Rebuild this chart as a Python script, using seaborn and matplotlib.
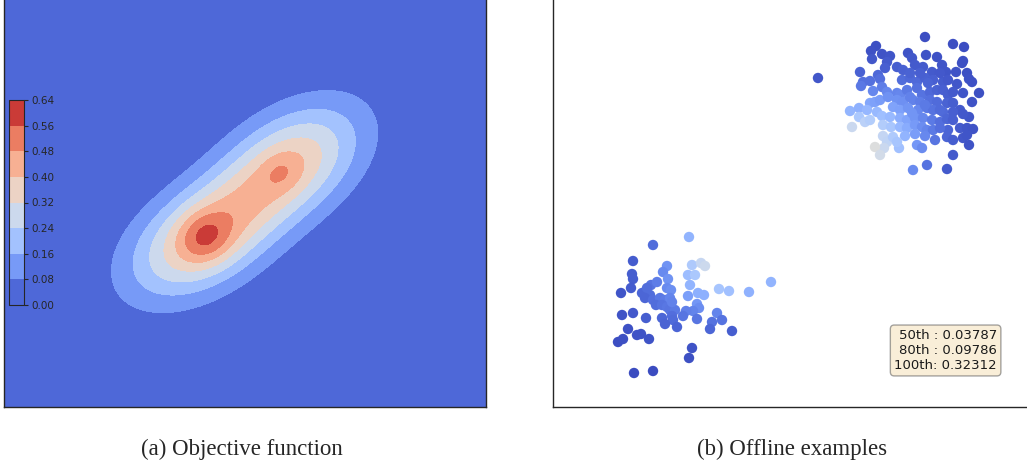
import numpy as np
import pandas as pd
import matplotlib
matplotlib.use("Agg")
import matplotlib.pyplot as plt
import seaborn as sns

# ---------------- data ----------------
# Objective function: sum of anisotropic Gaussian components
comp_x = [1.97, 2.85, 2.01, 2.77]
comp_y = [1.67, 2.42, 1.70, 2.35]
comp_amp = [0.40, 0.38, 0.14, 0.06]
comp_sig_major = [0.55, 0.56, 0.18, 0.14]
comp_sig_minor = [0.33, 0.34, 0.17, 0.13]
comp_angle = [32, 34, 40, 40]

levels = [0.00, 0.08, 0.16, 0.24, 0.32, 0.40, 0.48, 0.56, 0.64]
x_range = [0.0, 4.82]
y_range = [0.0, 4.12]

# Offline examples: lower-left cluster
cluster_a_x = [1.36, 1.00, 0.80, 1.14, 1.39, 1.48, 1.52, 0.79, 0.80, 1.10, 1.15, 1.35, 1.42, 0.98,
               1.04, 1.37, 0.78, 0.68, 0.89, 0.94, 1.14, 1.18, 0.97, 0.92, 1.00, 1.07, 1.12, 1.17,
               1.03, 1.09, 1.14, 1.17, 1.22, 1.35, 1.45, 1.51, 1.66, 1.76, 1.96, 2.18, 1.44, 1.46,
               1.40, 1.33, 1.30, 1.19, 1.20, 1.24, 1.44, 1.64, 1.59, 1.69, 1.57, 1.79, 1.09, 1.12,
               0.69, 0.80, 0.93, 0.75, 0.84, 0.88, 0.96, 0.65, 0.70, 1.39, 1.36, 0.81, 1.00, 1.19]
cluster_a_y = [1.70, 1.62, 1.46, 1.41, 1.42, 1.44, 1.41, 1.33, 1.28, 1.35, 1.28, 1.32, 1.32, 1.22,
               1.25, 1.22, 1.19, 1.14, 1.14, 1.19, 1.19, 1.17, 1.12, 1.09, 1.07, 1.09, 1.07, 1.09,
               1.02, 1.02, 1.00, 0.97, 0.97, 1.11, 1.14, 1.12, 1.18, 1.16, 1.15, 1.25, 1.03, 0.99,
               0.96, 0.96, 0.91, 0.91, 0.87, 0.80, 0.88, 0.94, 0.85, 0.87, 0.78, 0.76, 0.89, 0.83,
               0.92, 0.94, 0.89, 0.78, 0.72, 0.73, 0.68, 0.65, 0.68, 0.59, 0.49, 0.34, 0.36, 1.05]

# Offline examples: upper-right cluster
cluster_b_x = [3.72, 4.00, 4.11, 3.23, 3.18, 3.19, 3.29, 3.37, 3.55, 3.59, 3.73, 3.84, 4.10, 4.09,
               3.34, 3.32, 3.44, 3.50, 3.62, 3.70, 3.79, 3.89, 3.93, 4.03, 4.14, 4.16, 4.19, 2.65,
               3.07, 3.25, 3.27, 3.10, 3.08, 3.17, 3.49, 3.57, 3.64, 3.72, 3.80, 3.90, 3.95, 4.04,
               4.26, 4.19, 3.20, 3.29, 3.34, 3.44, 3.47, 3.54, 3.64, 3.69, 3.77, 3.84, 3.90, 3.95,
               4.00, 4.10, 3.17, 3.22, 3.27, 3.35, 3.44, 3.50, 3.60, 3.67, 3.77, 3.84, 3.94, 4.00,
               2.97, 3.06, 3.14, 3.24, 3.40, 3.47, 3.55, 3.65, 3.74, 3.80, 3.90, 4.07, 4.16, 4.10,
               2.99, 3.06, 3.12, 3.17, 3.29, 3.37, 3.47, 3.54, 3.62, 3.70, 3.79, 3.87, 3.94, 4.00,
               3.30, 3.38, 3.47, 3.54, 3.62, 3.69, 3.74, 3.80, 3.95, 4.07, 4.14, 4.20, 3.52, 3.62,
               3.72, 3.82, 3.94, 4.00, 4.10, 4.14, 3.30, 3.34, 3.31, 3.22, 3.27, 3.46, 3.64, 3.69,
               4.16, 4.00, 3.60, 3.74, 3.94, 3.57, 3.67, 3.75, 3.87, 3.57, 3.72, 3.87, 4.00, 3.59,
               3.87, 3.40, 3.44]
cluster_b_y = [3.70, 3.63, 3.60, 3.61, 3.56, 3.48, 3.53, 3.51, 3.54, 3.49, 3.52, 3.50, 3.46, 3.44,
               3.45, 3.39, 3.40, 3.37, 3.42, 3.40, 3.35, 3.42, 3.35, 3.35, 3.34, 3.28, 3.25, 3.29,
               3.35, 3.32, 3.28, 3.25, 3.21, 3.26, 3.27, 3.29, 3.25, 3.29, 3.27, 3.25, 3.27, 3.23,
               3.14, 3.05, 3.16, 3.20, 3.15, 3.14, 3.12, 3.17, 3.19, 3.12, 3.15, 3.17, 3.17, 3.12,
               3.15, 3.14, 3.04, 3.05, 3.07, 3.10, 3.07, 3.05, 3.07, 3.05, 3.07, 3.05, 3.04, 3.04,
               2.96, 2.99, 2.97, 2.95, 3.00, 2.97, 2.99, 2.97, 2.99, 2.97, 2.95, 2.97, 2.90, 2.93,
               2.80, 2.90, 2.85, 2.87, 2.91, 2.90, 2.89, 2.87, 2.89, 2.89, 2.87, 2.85, 2.88, 2.87,
               2.82, 2.80, 2.80, 2.79, 2.82, 2.80, 2.77, 2.77, 2.77, 2.79, 2.79, 2.78, 2.71, 2.73,
               2.71, 2.67, 2.70, 2.67, 2.69, 2.72, 2.71, 2.65, 2.59, 2.60, 2.52, 2.59, 2.62, 2.59,
               2.62, 2.52, 2.37, 2.42, 2.38, 3.34, 3.34, 3.24, 3.34, 3.10, 3.02, 2.97, 2.95, 2.94,
               2.79, 2.70, 2.65]

pct_labels = ["50th", "80th", "100th"]
pct_values = ["0.03787", "0.09786", "0.32312"]
captions = ["(a) Objective function", "(b) Offline examples"]


def objective(x, y):
    x = np.asarray(x, dtype=float)
    y = np.asarray(y, dtype=float)
    total = np.zeros(np.broadcast(x, y).shape)
    for cx, cy, a, sM, sm, ang in zip(comp_x, comp_y, comp_amp, comp_sig_major,
                                      comp_sig_minor, comp_angle):
        t = np.deg2rad(ang)
        dx, dy = x - cx, y - cy
        u = dx * np.cos(t) + dy * np.sin(t)
        v = -dx * np.sin(t) + dy * np.cos(t)
        total = total + a * np.exp(-0.5 * ((u / sM) ** 2 + (v / sm) ** 2))
    return total


# ---------------- figure ----------------
sns.set_style("white")
plt.rcParams["font.family"] = ["DejaVu Sans"]

fig = plt.figure(figsize=(10.27, 4.67), dpi=100)
ax_w = (x_range[1] - x_range[0]) * 100 / 1027
ax_h = (y_range[1] - y_range[0]) * 100 / 467
bottom = 60 / 467
ax1 = fig.add_axes([4 / 1027, bottom, ax_w, ax_h])
ax2 = fig.add_axes([553 / 1027, bottom, ax_w, ax_h])

# Left: objective contour
gx = np.linspace(x_range[0], x_range[1], 500)
gy = np.linspace(y_range[0], y_range[1], 430)
GX, GY = np.meshgrid(gx, gy)
GZ = objective(GX, GY)
cs = ax1.contourf(GX, GY, GZ, levels=levels, cmap="coolwarm")
ax1.set_xlim(*x_range)
ax1.set_ylim(*y_range)
ax1.set_xticks([])
ax1.set_yticks([])

cax = fig.add_axes([9 / 1027, (467 - 305) / 467, 15 / 1027, 205 / 467])
cbar = fig.colorbar(cs, cax=cax, ticks=levels)
cbar.ax.set_yticklabels([f"{v:.2f}" for v in levels])
cbar.ax.tick_params(labelsize=7.5, length=3, width=0.8, colors="0.15", pad=2)
cbar.outline.set_edgecolor("0.15")

# Right: offline examples
df = pd.DataFrame({
    "x": cluster_a_x + cluster_b_x,
    "y": cluster_a_y + cluster_b_y,
})
df["score"] = objective(df["x"].values, df["y"].values)
sns.scatterplot(data=df, x="x", y="y", hue="score", palette="coolwarm",
                hue_norm=(0.0, float(GZ.max())), s=56, linewidth=0,
                legend=False, ax=ax2)
ax2.set_xlim(*x_range)
ax2.set_ylim(*y_range)
ax2.set_xticks([])
ax2.set_yticks([])
ax2.set_xlabel("")
ax2.set_ylabel("")

box_text = "\n".join(f"{lab:5s}: {val}" for lab, val in zip(pct_labels, pct_values))
ax2.text(0.921, 0.085, box_text, transform=ax2.transAxes, ha="right", va="bottom",
         multialignment="right", fontsize=9.5, color="0.1",
         bbox=dict(boxstyle="round", facecolor="wheat", alpha=0.5, edgecolor="0.3"))

for ax in (ax1, ax2):
    for sp in ax.spines.values():
        sp.set_color("0.15")
        sp.set_linewidth(1.0)

fig.text(242 / 1027, (467 - 449) / 467, captions[0], ha="center", va="center",
         fontsize=16.5, family=["Liberation Serif"])
fig.text(792 / 1027, (467 - 449) / 467, captions[1], ha="center", va="center",
         fontsize=16.5, family=["Liberation Serif"])

fig.savefig("out.png", dpi=100)
